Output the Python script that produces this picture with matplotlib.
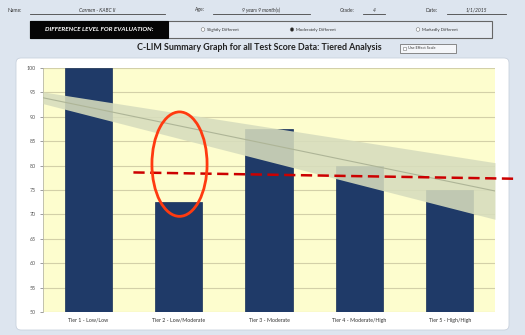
import matplotlib
matplotlib.use("Agg")
import matplotlib.pyplot as plt
from matplotlib.patches import FancyBboxPatch, Rectangle, Ellipse, Circle

# ---- data ----
tiers = ["Tier 1 - Low/Low", "Tier 2 - Low/Moderate", "Tier 3 - Moderate",
         "Tier 4 - Moderate/High", "Tier 5 - High/High"]
scores = [100, 72.5, 87.5, 80, 75]
band_x = [-0.5, 4.5]
band_upper = [95.1, 80.6]
band_lower = [92.7, 69.0]
band_center = [93.9, 74.8]
cut_line_x = [0.5, 4.74]
cut_line_y = [78.6, 77.3]
y_ticks = list(range(50, 101, 5))

W, H = 525, 335
fig = plt.figure(figsize=(W / 100, H / 100), dpi=100)
fig.patch.set_facecolor("#dde5ef")
plt.rcParams["font.family"] = ["Lato", "DejaVu Sans"]

# page layer in pixel coordinates
bg = fig.add_axes([0, 0, 1, 1], zorder=0)
bg.set_xlim(0, W)
bg.set_ylim(H, 0)
bg.axis("off")
bg.set_facecolor("none")

txt = "#333333"
# header row: name / age / grade / date
fields = [("Name:", 8, 30, 165, "Carmen - KABC II"),
          ("Age:", 195, 213, 310, "9 years 9 month(s)"),
          ("Grade:", 340, 363, 385, "4"),
          ("Date:", 425, 447, 506, "1/1/2015")]
for label, lx, x0, x1, value in fields:
    bg.text(lx, 10, label, fontsize=3.6, color=txt, va="center", ha="left")
    bg.plot([x0, x1], [14, 14], color="#444444", lw=0.6)
    bg.text((x0 + x1) / 2, 10, value, fontsize=3.6, color=txt, va="center",
            ha="center", style="italic")

# evaluation level box
bg.add_patch(Rectangle((30, 21), 462, 17, facecolor="#e4eaf2", edgecolor="#666666", lw=0.8))
bg.add_patch(Rectangle((30, 21), 138, 17, facecolor="#050505", edgecolor="#050505", lw=0.8))
bg.text(99, 29.5, "DIFFERENCE LEVEL FOR EVALUATION:", fontsize=4.6, color="white",
        weight="bold", style="italic", ha="center", va="center")
radios = [(203, "Slightly Different", False), (292, "Moderately Different", True),
          (418, "Markedly Different", False)]
for cx, label, selected in radios:
    bg.add_patch(Circle((cx, 29.5), 1.8, facecolor="#222222" if selected else "white",
                        edgecolor="#777777", lw=0.4))
    bg.text(cx + 4, 29.5, label, fontsize=3.1, color=txt, ha="left", va="center")

# chart title and option checkbox
bg.text(259, 48, "C-LIM Summary Graph for all Test Score Data: Tiered Analysis",
        fontsize=6.4, weight="bold", color="#222222", ha="center", va="center")
bg.add_patch(Rectangle((400, 43.5), 56, 9, facecolor="#f4f6f9", edgecolor="#777777", lw=0.6))
bg.add_patch(Rectangle((403, 46.5), 3, 3, facecolor="white", edgecolor="#777777", lw=0.4))
bg.text(408, 48, "Use Effect Scale", fontsize=2.8, color=txt, ha="left", va="center")

# white chart panel
bg.add_patch(FancyBboxPatch((16, 58), 493, 272, boxstyle="round,pad=0,rounding_size=5",
                            facecolor="white", edgecolor="#c9d2de", lw=0.6))

# ---- chart ----
ax = fig.add_axes([43 / W, 1 - 312 / H, 452 / W, 244 / H], zorder=2)
ax.set_facecolor("#fdfdce")
x = list(range(len(tiers)))
ax.bar(x, scores, width=0.52, bottom=0, color="#1f3a68", edgecolor="#18305a",
       lw=0.5, zorder=3)
ax.fill_between(band_x, band_lower, band_upper, color="#d7ddbd", alpha=0.88,
                lw=0, zorder=4)
ax.plot(band_x, band_center, color="#aeb597", lw=0.8, zorder=5)

ax.set_xlim(-0.5, 4.5)
ax.set_ylim(50, 100)
ax.set_yticks(y_ticks)
ax.set_yticklabels([str(v) for v in y_ticks])
ax.set_xticks(x)
ax.set_xticklabels(tiers)
ax.yaxis.grid(True, color="#d3d0a8", lw=0.8, zorder=1)
ax.set_axisbelow(True)
for side in ["top", "right", "bottom"]:
    ax.spines[side].set_visible(False)
ax.spines["left"].set_color("#b8b8a8")
ax.spines["left"].set_linewidth(0.6)
ax.tick_params(axis="y", labelsize=3.8, colors="#555555", length=2, width=0.4, pad=3)
ax.tick_params(axis="x", labelsize=3.8, colors="#333333", length=0, pad=4)

# red markup: circled gap and cut line
ax.add_patch(Ellipse((1.01, 80.3), 0.61, 21.4, facecolor="none", edgecolor="#ff3a10",
                     lw=2.0, zorder=7))
ax.plot(cut_line_x, cut_line_y, color="#cc0000", lw=1.8, ls=(0, (4.5, 2.2)),
        clip_on=False, zorder=6)

fig.savefig("out.png", dpi=100)
